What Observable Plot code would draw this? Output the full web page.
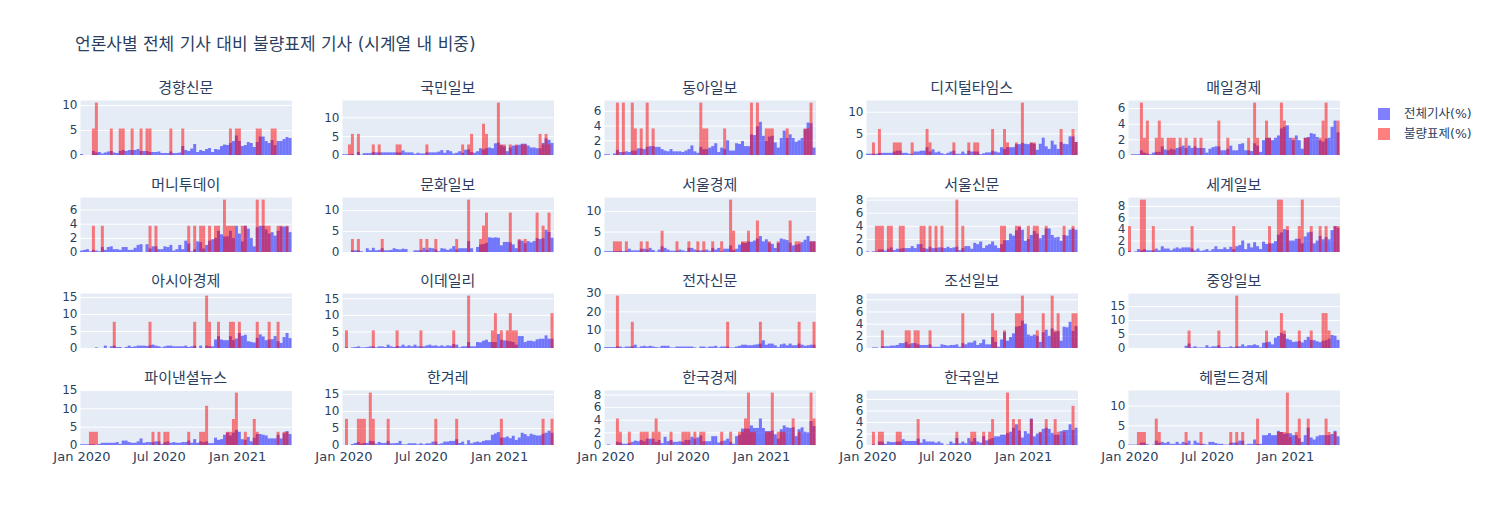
<!DOCTYPE html>
<html><head><meta charset="utf-8">
<script src="https://cdn.jsdelivr.net/npm/d3@7"></script>
<script src="https://cdn.jsdelivr.net/npm/@observablehq/plot@0.6"></script>
<style>
body{margin:0;background:#fff;}
#root{position:relative;width:1491px;height:525px;overflow:hidden;font-family:"DejaVu Sans","Noto Sans CJK KR",sans-serif;color:#2a3f5f;}
.title{position:absolute;left:75px;top:44px;transform:translateY(-50%);font-size:17px;line-height:1;white-space:nowrap;}
.sub{position:absolute;font-size:15px;line-height:1;white-space:nowrap;transform:translate(-50%,-50%);}
.panel{position:absolute;}
.leg{position:absolute;left:1378px;font-size:12.5px;line-height:1;white-space:nowrap;}
.leg .sw{position:absolute;left:0;width:12px;height:12px;}
.leg .tx{position:absolute;left:26px;transform:translateY(-50%);}
</style></head>
<body><div id="root"></div>
<script>
const weeks = [
"2020-01-01","2020-01-08","2020-01-15","2020-01-22","2020-01-29","2020-02-05","2020-02-12","2020-02-19","2020-02-26","2020-03-04",
"2020-03-11","2020-03-18","2020-03-25","2020-04-01","2020-04-08","2020-04-15","2020-04-22","2020-04-29","2020-05-06","2020-05-13",
"2020-05-20","2020-05-27","2020-06-03","2020-06-10","2020-06-17","2020-06-24","2020-07-01","2020-07-08","2020-07-15","2020-07-22",
"2020-07-29","2020-08-05","2020-08-12","2020-08-19","2020-08-26","2020-09-02","2020-09-09","2020-09-16","2020-09-23","2020-09-30",
"2020-10-07","2020-10-14","2020-10-21","2020-10-28","2020-11-04","2020-11-11","2020-11-18","2020-11-25","2020-12-02","2020-12-09",
"2020-12-16","2020-12-23","2020-12-30","2021-01-06","2021-01-13","2021-01-20","2021-01-27","2021-02-03","2021-02-10","2021-02-17",
"2021-02-24","2021-03-03","2021-03-10","2021-03-17","2021-03-24","2021-03-31","2021-04-07","2021-04-14","2021-04-21","2021-04-28",
"2021-05-05"];
const xTickDates = ["2020-01-01","2020-07-01","2021-01-01"];
const outlets = ["경향신문","국민일보","동아일보","디지털타임스","매일경제","머니투데이","문화일보","서울경제","서울신문","세계일보",
"아시아경제","이데일리","전자신문","조선일보","중앙일보","파이낸셜뉴스","한겨레","한국경제","한국일보","헤럴드경제"];
const yStep = [5,5,2,5,2, 2,5,5,2,2, 5,5,10,2,5, 5,5,2,2,5];
const seriesNames = ["전체기사(%)","불량표제(%)"];

// 경향신문
const khTotal = [0.2,0,0,0,0.8,0.5,0.6,0.3,0.5,0.7, 0.8,0.5,0.4,0.8,1.0,0.8,1.0,1.0,1.0,1.2, 0.8,0.8,0.8,0.6,0.6,0.6,0.7,0.4,0.4,0.4, 0.7,0.4,0.4,0.5,1.8,1.0,0.8,1.3,2.2,0.6, 1.0,0.8,1.2,1.4,0.6,1.2,1.1,1.8,2.1,2.0, 2.4,2.8,3.9,2.8,1.8,2.0,2.6,2.4,1.6,2.6, 3.7,3.7,2.8,2.4,3.0,2.0,2.8,2.8,3.2,3.6, 3.4];
const khBad = [0,0,0,0,5.3,10.5,0,0,0,0, 5.3,0,0,5.3,5.3,0,0,5.3,0,0, 5.3,0,5.3,5.3,0,0,0,0,0,0, 5.3,0,0,0,5.3,0,0,0,0,0, 0,0,0,0,0,0,0,0,0,0, 5.3,0,5.3,5.3,0,0,0,0,0,5.3, 5.3,0,0,0,5.3,5.3,0,0,0,0, 0];
// 국민일보
const kmTotal = [0.2,0.2,0.2,0.3,0,0.8,0.1,0.5,0.5,0.5, 0.8,0.7,0.7,0.7,0.7,0.7,0.7,0.7,0.7,0.7, 1.2,0.7,0.7,0.7,0.3,0.6,0.4,0.4,0.7,0.7, 0.7,0.7,0.9,1.3,0.6,1.3,1.0,0.4,0.6,1.0, 0.6,1.4,1.5,0.8,0.6,1.0,1.8,1.5,1.8,2.0, 1.8,3.1,3.3,2.6,2.3,1.0,2.0,2.5,2.5,2.7, 3.0,3.0,2.5,2.0,2.0,1.8,1.8,3.2,4.4,4.0, 3.2];
const kmBad = [0,0,2.8,5.6,0,5.6,0,0,0,0, 2.8,0,2.8,0,0,0,0,0,2.8,2.8, 0,0,0,0,0,0,0,0,2.8,0, 0,0,0,0,0,0,0,0,0,0, 2.8,0,2.8,5.6,0,0,0,8.3,5.6,0, 0,0,13.9,2.8,2.8,0,2.8,0,2.8,0, 2.8,2.8,0,0,0,0,5.6,2.8,5.6,2.8, 0];
// 동아일보
const daTotal = [0.1,0.1,0,0.2,0.7,0.4,0.4,0.5,0.4,0.6, 0.6,0.9,0.9,0.8,1.1,1.2,1.2,1.1,1.1,0.8, 0.6,0.5,0.8,0.5,0.5,0.5,0.4,0.6,0.8,1.3, 0.5,0.3,1.1,0.8,0.8,1.0,1.2,1.6,0.4,1.0, 0.8,2.0,0.6,0.6,1.6,1.5,1.9,1.2,1.2,2.8, 2.7,3.9,4.5,2.6,1.9,2.5,2.6,1.7,1.0,2.3, 3.3,2.3,2.8,2.3,1.8,2.0,2.3,3.5,4.4,4.3, 1.0];
const daBad = [0,0,0,0,7.1,0,7.1,0,0,7.1, 3.6,0,3.6,0,7.1,0,3.6,0,0,0, 0,0,0,0,0,0,0,0,0,0, 0,0,7.1,3.6,3.6,0,0,0,0,0, 3.6,0,0,0,0,0,0,0,0,7.1, 0,7.1,0,0,3.6,3.6,3.6,0,0,0, 0,3.6,0,0,0,0,0,3.6,3.6,7.1, 0];
// 디지털타임스
const dtTotal = [0.3,0.3,0.3,0.3,0.5,0.5,0.5,0.5,0.5,0.8, 1.0,1.0,0.5,0.5,0.3,0.3,0.8,0.8,1.0,1.0, 1.8,0.8,1.3,0.6,0.8,0.4,0.2,0.5,0.8,1.0, 0.3,0.3,0.8,0.3,1.0,0.8,0.8,0.8,0.2,0.4, 0.6,0.6,1.0,0.8,0.6,1.8,1.4,1.8,1.8,1.8, 2.5,2.5,2.8,2.6,2.5,2.8,2.6,1.2,2.6,4.0, 2.0,1.4,3.3,2.4,1.4,3.0,2.6,2.5,4.3,4.3, 3.0];
const dtBad = [0,0,2.9,0,6.0,0,0,0,0,2.9, 2.9,2.9,0,0,0,2.9,0,0,0,0, 6.0,2.9,0,0,0,0,0,0,0,2.9, 0,0,0,0,2.9,0,2.9,2.9,0,0, 0,0,6.0,0,0,0,6.0,2.9,0,0, 2.9,0,12.1,0,0,2.9,2.9,0,0,0, 0,0,0,0,0,6.0,0,0,0,6.0, 3.0];
// 매일경제
const mkTotal = [0,0.1,0.1,0.1,0.6,0.3,0.2,0.1,0.3,0.4, 0.4,1.1,0.7,0.6,0.8,0.7,0.9,1.0,1.2,0.9, 1.2,0.9,1.1,0.9,0.9,0.9,0.3,0.8,1.0,1.1, 1.1,0.6,0.6,0.8,1.2,0.6,0.6,1.4,1.5,0.6, 0.6,0.5,1.5,1.2,0.4,1.9,2.2,2.2,1.9,2.2, 2.5,3.4,3.6,3.8,2.2,1.9,2.5,1.9,0.8,2.2, 2.3,2.8,2.7,2.3,1.9,1.7,2.1,2.2,3.6,4.4, 2.9];
const mkBad = [0,0,0,0,6.7,2.2,4.4,0,0,2.2, 4.4,2.2,0,2.2,2.2,2.2,0,2.2,0,2.2, 0,0,2.2,0,2.2,0,0,0,0,0, 4.4,0,0,2.2,0,0,0,0,0,0, 2.2,0,6.7,2.2,0,0,4.4,2.2,0,0, 0,6.7,4.4,0,0,2.2,0,0,0,2.2, 2.2,0,0,0,2.2,4.4,6.7,0,0,0, 4.4];
// 머니투데이
const mtTotal = [0.2,0.3,0.4,0.1,0.3,0.2,0.1,0.7,0.3,0.7, 0.8,0.4,0.4,0.3,0.7,0.7,0.3,0.3,0.6,1.0, 1.1,0,1.1,0.5,0.8,0.8,0.4,0.4,0.8,0.7, 1.0,0.2,0.4,1.0,0.4,1.6,1.2,0.1,0.4,1.5, 1.4,0.5,1.0,1.6,1.8,2.0,3.0,2.5,2.2,2.2, 3.0,2.0,3.7,2.6,1.5,3.7,3.3,2.0,0.8,3.5, 3.7,3.7,3.2,2.6,2.8,2.3,3.0,3.6,3.6,3.6, 2.8];
const mtBad = [0,0,0,0,3.7,0,0,3.7,0,0, 0,0,0,0,0,0,0,0,0,0, 0,0,0,3.7,0,3.7,0,0,0,0, 0,0,0,0,0,0,3.7,0,3.7,0, 3.7,3.7,0,3.7,0,3.7,3.7,0,7.4,3.7, 3.7,3.7,0,0,3.7,3.7,0,0,0,7.4, 0,7.4,3.7,3.7,0,0,3.7,3.7,0,3.7, 0];
// 문화일보
const mhTotal = [0,0,0,0.4,0.4,0.4,0.2,0,0.9,0.4, 1.0,0.4,0.5,0.9,0.4,0.4,0.5,0.9,0.7,0.6, 0.8,0.7,0,0,0.4,0.4,0.4,1.0,0.5,1.0, 0.9,0.6,0.2,0.9,0.8,0.5,0.8,1.4,0.6,0.9, 0.9,0.9,2.6,0.9,0,1.2,1.8,1.9,2.2,3.5, 3.4,3.5,3.4,1.6,2.4,2.4,2.3,1.8,0.9,2.8, 2.7,2.1,2.6,2.3,2.6,3.3,3.1,3.3,5.3,4.8, 3.4];
const mhBad = [0,0,0,3.1,0,3.1,0,0,0,0, 0,0,0,3.1,0,0,0,0,0,0, 0,0,0,0,0,0,3.1,0,3.1,0, 0,3.1,0,0,0,0,0,0,3.1,0, 0,0,12.5,0,0,0,3.1,6.3,9.4,0, 0,0,0,0,0,0,9.4,0,0,3.1, 0,3.1,0,0,0,9.4,0,6.3,0,9.4, 0];
// 서울경제
const seTotal = [0.2,0.2,0.2,0.2,0.2,0.3,0.2,0.3,0.8,0.4, 0.4,0.4,0.8,0.8,0.6,1.0,0.5,0.1,0.6,1.4, 1.0,0.6,0.3,0.3,0.3,0.6,0.4,0.2,1.0,1.0, 0.6,0.4,0.4,0.4,0.6,0.3,1.0,0.6,1.0,0.2, 0.8,0.8,1.6,0.5,0.8,1.8,2.3,2.2,2.6,2.5, 2.8,3.3,3.9,2.6,3.1,2.3,2.0,1.0,2.2,3.3, 3.1,2.9,2.3,1.6,1.8,2.0,2.4,3.0,3.9,2.6, 2.6];
const seBad = [0,0,0,2.6,2.6,2.6,0,2.6,0,0, 0,0,2.6,0,2.6,0,0,0,0,5.2, 0,0,0,0,2.6,0,0,0,2.6,0, 0,2.6,0,2.6,0,0,2.6,0,0,2.6, 0,0,12.8,5.2,0,0,2.6,2.6,5.2,0, 0,7.7,0,0,0,2.6,0,0,2.6,0, 0,0,7.7,0,2.6,2.6,0,0,0,2.6, 2.6];
// 서울신문
const ssTotal = [0.1,0,0.1,0.1,0.4,0.4,0.2,0.5,0.7,0.3, 0.5,0.5,0.6,0.6,0.6,0.9,0.6,1.2,1.2,0.6, 0.5,0.8,0.6,0.6,0.7,0.7,0.6,0.8,0.6,0.7, 0.8,0.3,0.6,0.9,0.9,0.5,1.4,1.2,1.6,0.6, 1.0,1.2,1.6,1.0,0.6,1.2,1.8,1.8,2.8,2.5, 3.3,3.8,3.4,1.7,2.0,2.6,3.2,2.8,2.1,2.6, 3.6,3.6,2.6,2.2,2.3,1.7,2.6,2.5,3.4,3.6, 3.4];
const ssBad = [0,0,0,4,4,4,0,4,4,0, 0,4,4,0,0,0,0,0,4,4, 0,4,0,4,0,4,0,0,0,0, 8,0,4,0,0,0,0,0,0,0, 0,0,0,0,0,4,4,0,0,0, 4,4,0,0,4,0,4,4,0,0, 4,0,0,0,0,0,4,0,0,4, 0];
// 세계일보
const sgTotal = [0.2,0,0.1,0.5,0.3,0.5,0.3,0.3,0.3,0.6, 0.3,1.0,0.6,0.6,0.3,0.6,0.8,0.6,0.8,0.8, 0.8,0.6,0.3,0.6,0.2,0.3,0.5,0.2,0.5,1.0, 0.5,0.5,0.8,0.5,0.9,0.5,1.0,1.2,2.0,0.5, 1.5,0.8,1.7,1.0,0.5,1.8,1.4,1.5,1.5,1.9, 3.0,3.4,4.0,3.8,2.0,2.0,2.3,2.3,1.5,2.7, 3.4,3.5,1.5,2.0,2.8,2.2,2.6,2.2,3.8,4.5, 4.2];
const sgBad = [4.5,0,0,0,9.1,9.1,0,0,4.5,0, 0,0,0,0,0,0,0,0,0,0, 0,4.5,0,0,0,0,0,0,0,0, 0,0,0,0,0,4.5,0,0,0,0, 0,0,0,0,0,0,0,4.5,0,0, 9.1,9.1,0,4.5,0,0,0,4.5,9.1,0, 0,4.5,0,0,4.5,0,4.5,0,0,4.5, 4.5];
// 아시아경제
const agTotal = [0,0,0,0,0,0.2,0,0,0.7,0, 0.5,0.7,0.3,0.3,0,0.3,0.7,0.3,0.5,0.7, 0.7,0.7,0.6,0.8,1.0,0.7,0.5,0.2,0.5,0.7, 0.7,0.5,0.5,0.5,0.5,0.7,0.3,0.5,0.7,0, 0.7,0,0.7,0.5,0.5,2.5,3.5,2.5,2.3,2.3, 3.5,2.3,2.8,4.4,3.6,3.9,2.0,1.8,1.6,3.0, 4.0,3.4,2.3,2.5,2.6,3.5,2.0,1.5,3.2,4.4, 2.9];
const agBad = [0,0,0,0,0,0,0,0,0,0, 0,7.7,0,0,0,0,0,0,0,0, 0,0,0,7.7,0,0,0,0,0,0, 0,0,0,0,0,0,0,0,7.7,0, 0,0,15.4,7.7,0,0,7.7,0,0,0, 7.7,7.7,0,7.7,0,0,0,0,0,7.7, 0,0,0,7.7,0,0,7.7,0,0,0, 0];
// 이데일리
const edTotal = [0,0.2,0,0.2,0.3,0.5,0.2,0.2,0.3,0.5, 0.5,0.2,0.5,0.5,0.3,1.0,0.5,0.3,0.6,0.5, 1.0,0.5,0.8,0.5,1.0,0.5,0.5,0.5,0.8,1.0, 0.7,0.8,0.5,0.8,0.5,0.8,0.7,1.2,1.0,0.2, 0.5,0.5,1.8,0.5,0.5,1.8,1.7,2.2,2.5,1.8, 1.8,1.8,4.2,2.5,2.3,2.2,2.0,1.8,1.0,3.6, 3.6,1.8,2.2,2.2,2.0,2.6,2.8,2.8,3.8,2.8, 2.8];
const edBad = [0,5.3,0,0,0,0,0,0,0,0, 5.3,0,0,0,0,0,0,0,5.3,0, 0,0,0,0,0,0,5.3,0,0,0, 0,0,0,0,0,0,0,5.3,0,0, 0,0,15.8,0,0,0,0,0,0,0, 5.3,10.5,0,5.3,0,5.3,10.5,5.3,5.3,0, 0,0,0,0,0,0,0,0,0,0, 10.5];
// 전자신문
const jjTotal = [0.5,0.5,0.5,0.5,0.9,0.8,0.3,0.8,0.8,1.0, 1.8,0.3,0.9,1.2,0.8,1.2,0.8,0.5,0.3,1.2, 1.2,1.2,0.3,0.3,0.8,0.8,0.8,0.8,0.8,0.8, 0.3,0,0.8,0.8,0.3,0.8,0.8,1.2,0.3,0.8, 0.8,0.8,0.3,0.3,0.8,1.2,1.8,1.8,1.5,1.5, 1.8,2.0,2.4,4.2,1.8,2.4,2.4,1.5,0.5,2.0, 2.4,1.5,2.4,1.5,1.5,2.4,1.8,1.2,1.5,1.8, 1.8];
const jjBad = [0,0,0,0,28.6,0,0,0,0,14.3, 0,0,0,0,0,0,0,0,0,0, 0,0,0,0,0,0,0,0,0,0, 0,0,0,0,0,0,0,0,0,0, 0,14.3,0,0,0,0,0,0,0,0, 0,0,14.3,0,0,0,0,0,0,0, 0,0,0,0,0,14.3,0,0,0,0, 14.3];
// 조선일보
const csTotal = [0,0,0.1,0.1,0,0.3,0.3,0.3,0.4,0.4, 0.5,0.8,0.8,1.0,0.6,0.8,0.8,0.6,0.5,0.5, 0.5,0.6,0.2,0.2,0.2,0.6,0.5,0.4,0.5,0.5, 0.6,0.2,0.8,0.6,0.9,0.9,1.2,0.5,0.8,1.4, 0.6,0.6,1.8,1.0,0.2,1.4,2.6,1.2,1.8,2.4, 3.5,3.6,4.5,4.0,2.2,2.0,2.2,2.0,1.0,2.6, 3.0,2.0,3.2,2.6,2.8,1.2,3.5,3.4,4.3,2.8, 3.6];
const csBad = [0,0,0,0,0,2.9,0,0,0,0, 0,0,0,2.9,2.9,0,2.9,2.9,0,0, 0,2.9,0,0,0,0,0,0,0,0, 0,0,5.7,0,0,0,0,0,0,0, 0,0,5.7,2.9,0,0,2.9,0,0,0, 5.7,5.7,8.6,0,0,0,0,2.9,0,5.7, 0,0,8.6,2.9,5.7,0,0,0,0,5.7, 5.7];
// 중앙일보
const jaTotal = [0,0,0,0,0,0,0,0,0,0, 0,0,0,0,0,0,0,0,0,0.8, 1.6,0.2,0.6,0.2,0.2,0.2,1.0,0.3,0.6,0.6, 1.0,0.3,0.3,0.3,0.6,0.3,0.6,0.6,1.3,0.6, 1.0,1.0,1.3,1.0,0.3,1.9,2.0,2.2,1.3,3.7, 4.3,5.4,5.0,3.3,2.9,2.2,2.3,2.5,2.0,2.9, 4.0,2.9,2.8,2.4,2.1,2.6,2.8,3.3,4.7,4.4, 2.9];
const jaBad = [0,0,0,0,0,0,0,0,0,0, 0,0,0,0,0,0,0,0,0,0, 6.25,0,0,0,0,0,0,0,0,0, 6.25,0,0,0,0,0,18.75,0,0,0, 0,0,0,0,0,0,6.25,0,0,0, 0,12.5,6.25,0,0,0,0,6.25,0,0, 0,6.25,0,0,0,12.5,12.5,6.25,0,0, 0];
// 파이낸셜뉴스
const fnTotal = [0.2,0.2,0.2,0.2,0.2,0,0.3,0.6,0.6,0.6, 0.6,0.6,0.8,0.3,1.2,1.2,0.8,0.6,0.6,1.0, 1.8,0.6,0.8,0.8,0.8,1.0,1.0,0.3,0.8,1.0, 0.6,0.8,0.6,0.6,0.8,0.8,1.2,0.6,1.6,0.6, 1.0,0.8,1.0,0.5,0.5,2.0,1.4,1.6,2.8,3.4, 2.6,3.4,4.1,3.6,1.6,1.4,2.2,1.0,2.0,3.0, 3.0,2.8,2.6,1.8,1.8,1.8,2.8,1.8,3.2,3.8, 3.0];
const fnBad = [0,0,0,3.6,3.6,3.6,0,0,0,0, 0,0,0,0,0,0,0,0,0,0, 0,0,0,0,3.6,0,3.6,0,3.6,3.6, 0,0,0,0,0,0,3.6,0,0,0, 3.6,3.6,10.7,0,0,0,0,0,0,3.6, 3.6,7.1,14.3,0,0,3.6,0,0,7.1,3.6, 0,0,0,0,0,0,3.6,0,3.6,3.6, 0];
// 한겨레
const hgTotal = [0,0,0,0.3,0.6,0.9,0.4,0.6,0.6,1.2, 1.1,0.4,0.9,0.6,0.6,1.2,0.5,0.5,0.6,1.2, 0.2,0.2,0.5,0.5,0.5,0.2,0.5,0.2,0.5,0.5, 1.0,1.0,0.3,0.5,1.0,1.0,1.2,1.2,1.7,0.6, 1.0,0.2,1.4,0.5,0.8,1.0,0.8,1.2,1.4,1.4, 3.0,3.4,3.8,2.2,2.2,2.5,2.0,2.7,1.5,2.2, 3.6,3.2,2.6,3.3,3.0,2.8,2.8,3.3,3.6,4.2, 3.6];
const hgBad = [0,7.7,0,0,0,7.7,7.7,7.7,0,15.4, 7.7,0,0,0,0,7.7,0,0,0,0, 0,0,0,0,0,0,0,0,0,0, 0,7.7,0,0,0,0,0,0,7.7,0, 0,0,0,0,0,0,0,0,0,0, 0,0,0,7.7,0,0,0,0,0,0, 0,0,0,0,0,0,0,7.7,0,0, 7.7];
// 한국경제
const hkTotal = [0,0.1,0,0,0.5,0.4,0.2,0.2,0.3,0.5, 0.7,0.6,0.8,0.6,1.0,1.0,1.0,0.5,0.8,0.3, 1.3,0.6,0.8,0.5,0.5,0.6,0.5,0.8,0.8,1.3, 1.0,1.2,1.5,0.6,0.6,0.6,1.4,1.4,0.4,0.6, 0.7,1.0,0.5,0.2,1.4,1.6,2.6,2.6,2.6,3.1, 2.7,2.7,4.2,2.7,2.2,2.2,2.3,1.7,1.0,2.5, 3.1,2.8,2.7,2.8,1.4,2.5,2.8,2.1,2.0,3.8, 3.0];
const hkBad = [0,0,0,0,4.2,2.1,0,0,2.1,0, 0,0,2.1,2.1,2.1,0,2.1,4.2,2.1,0, 0,0,2.1,0,0,0,2.1,2.1,2.1,0, 2.1,0,2.1,2.1,0,0,0,0,0,2.1, 0,0,2.1,0,0,2.1,2.1,4.2,8.3,2.1, 2.1,0,0,0,2.1,2.1,8.3,0,2.1,2.1, 2.1,0,0,4.2,0,2.1,0,0,0,8.3, 4.2];
// 한국일보
const hiTotal = [0,0,0.1,0,0.6,0.6,0.2,0.6,0.5,0.5, 0.6,0.6,1.0,0.7,0.7,0.7,0.7,1.1,0.4,1.0, 0.6,0.6,0.6,0.4,0.6,0.3,0,0.1,0.6,0.3, 1.2,0.3,0.6,0.3,1.2,0.6,1.2,0.6,0.4,1.5, 0.8,1.0,1.2,1.5,1.5,1.8,1.8,2.1,2.3,3.0, 3.6,2.5,1.3,2.4,2.0,4.6,1.5,2.0,2.2,2.8, 3.0,2.8,2.1,1.8,1.8,2.4,2.6,2.6,3.6,2.6, 3.0];
const hiBad = [0,0,2.3,0,2.3,2.3,0,0,0,0, 2.3,2.3,0,0,0,0,0,4.5,0,0, 0,0,0,0,0,0,0,0,0,0, 2.3,0,0,0,0,2.3,2.3,0,0,2.3, 0,2.3,4.5,0,0,0,0,9.1,0,4.5, 0,4.5,0,0,0,4.5,0,0,2.3,0, 4.5,0,0,4.5,2.3,0,2.3,0,0,6.8, 0];
// 헤럴드경제
const hdTotal = [0.1,0.1,0.1,0.1,0.6,0.6,0.2,0,0.1,1.1, 0.6,0.8,0.5,0.8,0.3,0.3,0.8,0.3,0.8,0.5, 1.1,0.1,1.1,0.6,0.3,0.3,0.1,0.8,0.8,0.5, 0.3,0.3,0.1,0.1,0.6,0.6,0.6,1.1,1.1,0.1, 0.3,0.3,1.4,0.3,0.3,2.5,2.5,3.0,2.5,2.5, 3.6,3.3,2.8,3.0,3.0,2.5,2.5,1.7,0.8,2.5, 4.4,1.9,1.4,2.2,2.5,2.5,2.5,2.5,2.8,3.6, 2.2];
const hdBad = [0,0,0,3.3,3.3,3.3,0,0,0,6.7, 3.3,0,0,0,0,0,0,0,0,3.3, 0,0,0,0,3.3,0,0,0,0,0, 0,0,0,0,3.3,0,3.3,0,3.3,0, 0,0,0,6.7,0,0,0,0,0,0, 3.3,3.3,3.3,13.3,2.0,0,3.3,6.7,0,0, 6.7,0,0,0,0,0,6.7,3.3,0,3.3, 0];

const totals = [khTotal,kmTotal,daTotal,dtTotal,mkTotal,mtTotal,mhTotal,seTotal,ssTotal,sgTotal,agTotal,edTotal,jjTotal,csTotal,jaTotal,fnTotal,hgTotal,hkTotal,hiTotal,hdTotal];
const bads = [khBad,kmBad,daBad,dtBad,mkBad,mtBad,mhBad,seBad,ssBad,sgBad,agBad,edBad,jjBad,csBad,jaBad,fnBad,hgBad,hkBad,hiBad,hdBad];

// layout
const colX = [80, 342, 604, 866, 1128];
const rowY = [100, 196.7, 293.4, 390.1];
const panelW = 211.5, panelH = 55;
const HALF = 3.5 * 864e5;
const dates = weeks.map(s => new Date(s + "T00:00:00Z"));
const xDomain = [new Date(+dates[0] - HALF), new Date(+dates[dates.length - 1] + HALF)];
const xTicks = xTickDates.map(s => new Date(s + "T00:00:00Z"));

const root = document.getElementById("root");
const t = document.createElement("div");
t.className = "title";
t.textContent = "언론사별 전체 기사 대비 불량표제 기사 (시계열 내 비중)";
root.appendChild(t);

function toRows(arr) {
  return arr.map((v, k) => ({x1: new Date(+dates[k] - HALF), x2: new Date(+dates[k] + HALF), y: v})).filter(d => d.y > 0);
}

outlets.forEach((name, i) => {
  const col = i % 5, row = Math.floor(i / 5);
  const ymax = d3.max([...totals[i], ...bads[i]]) * 1.05;
  const ticks = d3.range(0, ymax, yStep[i]);
  const bottom = row === 3;
  const mL = 40, mR = 8, mT = 8, mB = bottom ? 28 : 4;
  const chart = Plot.plot({
    width: mL + panelW + mR,
    height: mT + panelH + mB,
    marginLeft: mL, marginRight: mR, marginTop: mT, marginBottom: mB,
    style: {fontFamily: "'DejaVu Sans', sans-serif", fontSize: "12px", color: "#2a3f5f", background: "transparent", overflow: "visible"},
    x: {type: "utc", domain: xDomain, axis: bottom ? "bottom" : null, ticks: xTicks, tickFormat: d3.utcFormat("%b %Y"), tickSize: 0, tickPadding: 6, label: null},
    y: {domain: [0, ymax], ticks: ticks, tickSize: 0, tickPadding: 3, label: null, tickFormat: d => String(d)},
    marks: [
      Plot.frame({fill: "#E5ECF6", stroke: "none"}),
      Plot.ruleY(ticks, {stroke: "white", strokeWidth: 1, strokeOpacity: 1}),
      Plot.rectY(toRows(totals[i]), {x1: "x1", x2: "x2", y: "y", fill: "blue", fillOpacity: 0.5}),
      Plot.rectY(toRows(bads[i]), {x1: "x1", x2: "x2", y: "y", fill: "red", fillOpacity: 0.5})
    ]
  });
  chart.querySelectorAll("g[aria-label='x-axis tick label'] text, g[aria-label='x-axis'] text").forEach(el => el.setAttribute("font-size", "13"));
  const wrap = document.createElement("div");
  wrap.className = "panel";
  wrap.style.left = (colX[col] - mL) + "px";
  wrap.style.top = (rowY[row] - mT) + "px";
  wrap.appendChild(chart);
  root.appendChild(wrap);
  const s = document.createElement("div");
  s.className = "sub";
  s.style.left = (colX[col] + panelW / 2) + "px";
  s.style.top = (rowY[row] - 12) + "px";
  s.textContent = name;
  root.appendChild(s);
});

// legend
const legColors = ["blue", "red"];
seriesNames.forEach((n, k) => {
  const cy = 114 + k * 19.5;
  const g = document.createElement("div");
  g.className = "leg";
  g.style.top = cy + "px";
  const sw = document.createElement("div");
  sw.className = "sw";
  sw.style.top = "-6px";
  sw.style.background = legColors[k];
  sw.style.opacity = 0.5;
  const tx = document.createElement("div");
  tx.className = "tx";
  tx.textContent = n;
  g.appendChild(sw); g.appendChild(tx);
  root.appendChild(g);
});
</script></body></html>
